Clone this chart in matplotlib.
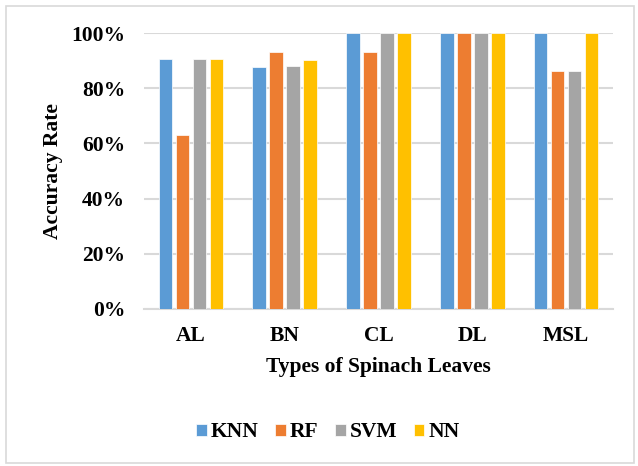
import numpy as np
import matplotlib.pyplot as plt
from matplotlib.patches import Rectangle
from matplotlib.ticker import PercentFormatter

categories = ["AL", "BN", "CL", "DL", "MSL"]
models = ["KNN", "RF", "SVM", "NN"]
knn = [0.907, 0.877, 1.0, 1.0, 1.0]
rf = [0.630, 0.930, 0.930, 1.0, 0.862]
svm = [0.905, 0.880, 1.0, 1.0, 0.862]
nn = [0.907, 0.901, 1.0, 1.0, 1.0]
colors = ["#5b9bd5", "#ed7d31", "#a5a5a5", "#ffc000"]

plt.rcParams['font.family'] = ['Liberation Serif', 'DejaVu Serif']
plt.rcParams['font.weight'] = 'bold'

fig = plt.figure(figsize=(6.38, 4.66), dpi=100)
ax = fig.add_axes([0.2257, 0.337, 0.735, 0.592])

x = np.arange(len(categories))
pitch = 0.181
width = 0.145
for i, (name, vals) in enumerate(zip(models, [knn, rf, svm, nn])):
    ax.bar(x + (i - 1.5) * pitch, vals, width, color=colors[i], label=name,
           edgecolor="white", linewidth=0.5, zorder=3)

ax.set_xlim(-0.5, len(categories) - 0.5)
ax.set_ylim(0, 1)
ax.set_yticks(np.arange(0, 1.01, 0.2))
ax.yaxis.set_major_formatter(PercentFormatter(1.0, decimals=0))
ax.set_xticks(x)
ax.set_xticklabels(categories)
ax.tick_params(axis='both', length=0, labelsize=15.5)
ax.tick_params(axis='x', pad=12)
ax.tick_params(axis='y', pad=13.5)
ax.grid(axis='y', color="#d9d9d9", linewidth=1.5, zorder=0)
for s in ["top", "right", "left"]:
    ax.spines[s].set_visible(False)
ax.spines["bottom"].set_color("#d9d9d9")
ax.spines["bottom"].set_linewidth(1.5)

ax.set_ylabel("Accuracy Rate", fontsize=15.5, fontweight='bold', labelpad=6)
ax.set_xlabel("Types of Spinach Leaves", fontsize=15.5, fontweight='bold', labelpad=8)

fig.legend(loc="center", bbox_to_anchor=(0.514, 0.072), ncol=4, frameon=False,
           fontsize=15.5, handlelength=0.5, handleheight=0.5, handletextpad=0.2,
           columnspacing=0.75)

fig.patches.append(Rectangle((0.009, 0.006), 0.985, 0.982, transform=fig.transFigure,
                             fill=False, edgecolor="#d9d9d9", linewidth=1.2))

fig.savefig("out.png", dpi=100)
